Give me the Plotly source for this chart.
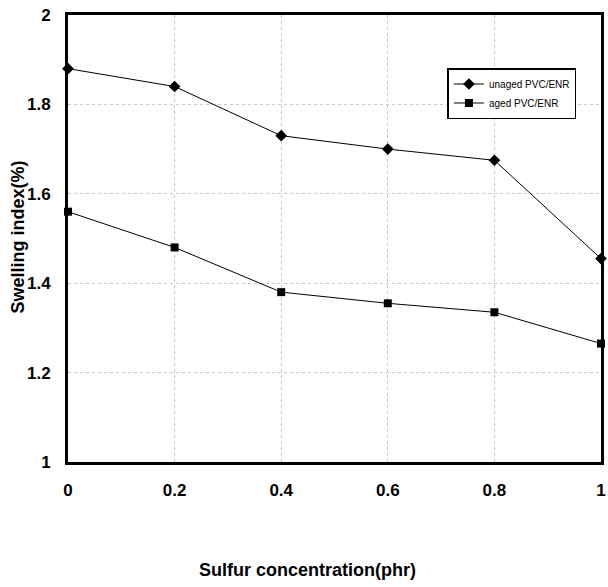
import plotly.graph_objects as go

sulfur = [0, 0.2, 0.4, 0.6, 0.8, 1.0]
unaged = [1.88, 1.84, 1.73, 1.70, 1.675, 1.455]
aged = [1.56, 1.48, 1.38, 1.355, 1.335, 1.265]
xticks = ["0", "0.2", "0.4", "0.6", "0.8", "1"]
yticks = ["1", "1.2", "1.4", "1.6", "1.8", "2"]

fig = go.Figure()
fig.add_trace(go.Scatter(x=sulfur, y=unaged, mode="lines+markers", name="unaged PVC/ENR",
                         line=dict(color="black", width=1),
                         marker=dict(symbol="diamond", size=9, color="black"), cliponaxis=False))
fig.add_trace(go.Scatter(x=sulfur, y=aged, mode="lines+markers", name="aged PVC/ENR",
                         line=dict(color="black", width=1),
                         marker=dict(symbol="square", size=8, color="black"), cliponaxis=False))

fam = "Liberation Sans, Arial"
H, W = 587, 608
ml, mr, mt, mb = 68, 2, 15, 125
ph = H - mt - mb
pw = W - ml - mr

fig.update_layout(
    width=W, height=H,
    margin=dict(l=ml, r=mr, t=mt, b=mb),
    paper_bgcolor="white", plot_bgcolor="white",
    font=dict(family=fam, size=15, color="black"),
    showlegend=True,
    legend=dict(x=(451 - ml) / pw, y=(H - mb - 68) / ph, xanchor="left", yanchor="top",
                bordercolor="black", borderwidth=1.5, bgcolor="white",
                font=dict(family=fam, size=10, color="black"),
                tracegroupgap=0, itemwidth=30),
    xaxis=dict(range=[0, 1], tickvals=sulfur,
               ticktext=["<b>%s</b>" % t for t in xticks],
               showline=True, linewidth=3, linecolor="black", mirror=True,
               showgrid=True, gridcolor="#c8c8c8", griddash="dot", gridwidth=1,
               zeroline=False, ticks="", ticklabelstandoff=11,
               tickfont=dict(family=fam, size=17, color="black")),
    yaxis=dict(range=[1, 2], tickvals=[1, 1.2, 1.4, 1.6, 1.8, 2],
               ticktext=["<b>%s</b>" % t for t in yticks],
               showline=True, linewidth=3, linecolor="black", mirror=True,
               showgrid=True, gridcolor="#c8c8c8", griddash="dot", gridwidth=1,
               zeroline=False, ticks="", ticklabelstandoff=11,
               tickfont=dict(family=fam, size=17, color="black")),
    annotations=[
        dict(text="<b>Sulfur concentration(phr)</b>", xref="paper", yref="paper",
             x=(310 - ml) / pw, y=-(570 - (H - mb)) / ph, xanchor="center", yanchor="middle",
             showarrow=False, font=dict(family=fam, size=18, color="black")),
        dict(text="<b>Swelling index(%)</b>", xref="paper", yref="paper",
             x=-(ml - 18) / pw, y=(H - mb - 237) / ph, xanchor="center", yanchor="middle",
             showarrow=False, textangle=-90, font=dict(family=fam, size=18, color="black")),
    ],
)
fig.write_html("out.html")
